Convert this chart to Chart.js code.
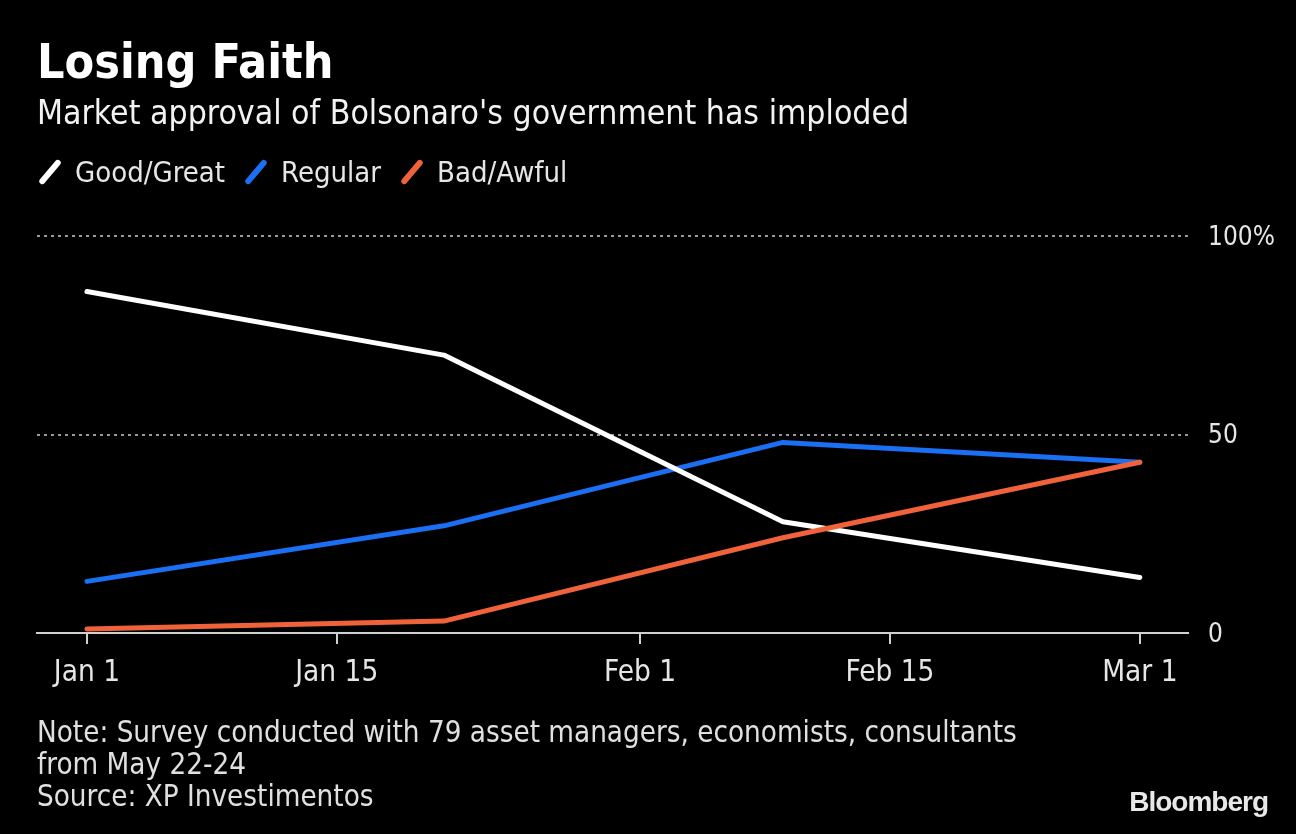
<!DOCTYPE html>
<html>
<head>
<meta charset="utf-8">
<script src="https://cdn.jsdelivr.net/npm/chart.js@4"></script>
<style>
  html, body { margin:0; padding:0; background:#000; }
  body { width:1296px; height:834px; position:relative; overflow:hidden;
         font-family: 'DejaVu Sans Condensed','Liberation Sans Narrow','Roboto Condensed','Open Sans',sans-serif; color:#fff; }
  #c { position:absolute; left:0; top:0; }
  .t { position:absolute; white-space:nowrap; }
  #title { left:37px; top:33px; font-size:48px; font-weight:bold; }
  #sub { left:37px; top:93px; font-size:33.5px; color:#f2f2f2; }
  #legend { left:37px; top:155px; font-size:29px; color:#e6e6e6; display:flex; align-items:center; }
  .li { display:flex; align-items:center; margin-right:18px; }
  .sw { display:inline-block; width:6px; height:30px; transform:rotate(40deg); border-radius:3px; margin:0 22px 0 10px; }
  #note { left:37px; top:716px; font-size:29.3px; line-height:32px; color:#e0e0e0; }
  #brand { right:28px; top:786px; font-size:28px; font-weight:bold; color:#e8e8e8; font-family:'Liberation Sans Narrow','Liberation Sans',Arial,sans-serif; letter-spacing:-1px; }
</style>
</head>
<body>
<canvas id="c" width="1296" height="834"></canvas>
<div class="t" id="title">Losing Faith</div>
<div class="t" id="sub">Market approval of Bolsonaro's government has imploded</div>
<div class="t" id="legend"></div>
<div class="t" id="note">Note: Survey conducted with 79 asset managers, economists, consultants<br>from May 22-24<br>Source: XP Investimentos</div>
<div class="t" id="brand">Bloomberg</div>
<script>
// Data: days since Jan 1, 2019
const seriesNames = ['Good/Great', 'Regular', 'Bad/Awful'];
const seriesColors = ['#ffffff', '#1a6ff2', '#f0633a'];
const surveyDays = [0, 20, 39, 59];          // Jan 1, Jan 21, Feb 9, Mar 1
const goodGreat = [86, 70, 28, 14];
const regular   = [13, 27, 48, 43];
const badAwful  = [1, 3, 24, 43];
const xTickDays   = [0, 14, 31, 45, 59];
const xTickLabels = ['Jan 1', 'Jan 15', 'Feb 1', 'Feb 15', 'Mar 1'];
const yTicks = [0, 50, 100];

const values = [goodGreat, regular, badAwful];
const drawOrder = [1, 2, 0];

// HTML legend
const lg = document.getElementById('legend');
seriesNames.forEach((n, i) => {
  const d = document.createElement('div'); d.className = 'li';
  const s = document.createElement('span'); s.className = 'sw'; s.style.background = seriesColors[i];
  const t = document.createElement('span'); t.textContent = n;
  d.appendChild(s); d.appendChild(t); lg.appendChild(d);
});

const FONT = "'DejaVu Sans Condensed','Liberation Sans Narrow','Roboto Condensed','Open Sans',sans-serif";

new Chart(document.getElementById('c'), {
  type: 'line',
  data: {
    datasets: seriesNames.map((n, i) => ({
      label: n,
      data: surveyDays.map((d, j) => ({ x: d, y: values[i][j] })),
      borderColor: seriesColors[i],
      backgroundColor: seriesColors[i],
      borderWidth: 5,
      borderCapStyle: 'round',
      borderJoinStyle: 'round',
      pointRadius: 0,
      tension: 0,
      order: drawOrder[i]
    }))
  },
  options: {
    responsive: false,
    animation: false,
    devicePixelRatio: 1,
    layout: { padding: { left: 37, top: 236, right: 0, bottom: 0 } },
    plugins: { legend: { display: false }, tooltip: { enabled: false } },
    scales: {
      x: {
        type: 'linear',
        min: -2.8, max: 61.7,
        afterBuildTicks: (s) => { s.ticks = xTickDays.map(v => ({ value: v })); },
        afterFit: (s) => { s.height = 834 - 633; },
        ticks: {
          callback: (v) => { const k = xTickDays.indexOf(v); return k >= 0 ? xTickLabels[k] : ''; },
          color: '#e6e6e6', font: { family: FONT, size: 29.5 }, padding: 12, maxRotation: 0, autoSkip: false
        },
        grid: { drawOnChartArea: false, drawTicks: true, tickLength: 11, color: '#d0d0d0', lineWidth: 2 },
        border: { display: true, color: '#d0d0d0', width: 2 }
      },
      y: {
        position: 'right',
        min: 0, max: 100,
        afterBuildTicks: (s) => { s.ticks = yTicks.map(v => ({ value: v })); },
        afterFit: (s) => { s.width = 1296 - 1188; },
        ticks: {
          callback: (v) => v === 100 ? '100%' : String(v),
          color: '#e6e6e6', font: { family: FONT, size: 26 }, padding: 20, labelOffset: 2
        },
        grid: {
          drawTicks: false,
          color: (ctx) => ctx.tick && ctx.tick.value === 0 ? 'rgba(0,0,0,0)' : '#9a9a9a',
          lineWidth: 2
        },
        border: { display: false, dash: [3, 4] }
      }
    }
  }
});
</script>
</body>
</html>
